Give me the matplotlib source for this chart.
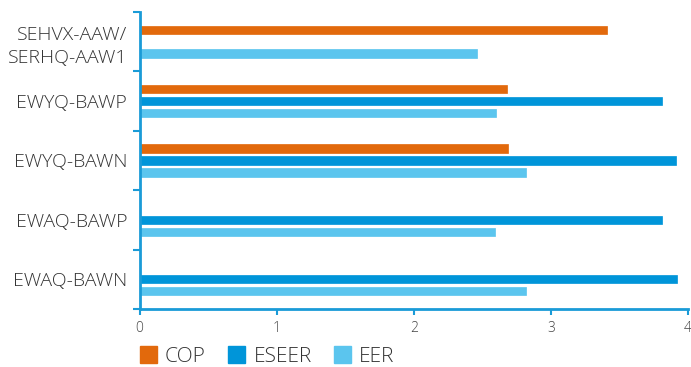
import numpy as np
import matplotlib
matplotlib.use("Agg")
import matplotlib.pyplot as plt
from matplotlib.patches import Patch

categories = ["SEHVX-AAW/\nSERHQ-AAW1", "EWYQ-BAWP", "EWYQ-BAWN", "EWAQ-BAWP", "EWAQ-BAWN"]
cop = [3.41, 2.68, 2.69, np.nan, np.nan]
eseer = [np.nan, 3.81, 3.91, 3.81, 3.92]
eer = [2.46, 2.60, 2.82, 2.59, 2.82]
series_names = ["COP", "ESEER", "EER"]
colors = ["#E2690C", "#0095D9", "#5BC5EE"]
xticks = [0, 1, 2, 3, 4]

plt.rcParams['font.family'] = ['Open Sans', 'DejaVu Sans']
plt.rcParams['font.weight'] = 'light'
fig = plt.figure(figsize=(6.91, 3.67), dpi=100)
ax = fig.add_axes([139.6/691, 1-309/367, (688-139.6)/691, (309-12)/367])

y = np.arange(len(categories))
h = 0.14
for vals, off, c in zip([cop, eseer, eer], [-0.2, 0.0, 0.2], colors):
    ax.barh(y + off, vals, height=h, color=c, edgecolor=c, linewidth=0.5)

ax.set_ylim(len(categories) - 0.5, -0.5)
ax.set_xlim(0, 4)
ax.set_xticks(xticks)
ax.set_xticklabels([str(t) for t in xticks])
ax.set_yticks(y)
ax.set_yticklabels(categories, fontsize=14, color="#333333", linespacing=1.35)
ax.set_yticks(np.arange(-0.5, len(categories)), minor=True)

axis_blue = "#1A9BD7"
for s in ["top", "right"]:
    ax.spines[s].set_visible(False)
for s in ["left", "bottom"]:
    ax.spines[s].set_color(axis_blue)
    ax.spines[s].set_linewidth(2)
ax.tick_params(axis="y", which="major", length=0, pad=9)
ax.tick_params(axis="y", which="minor", length=5, width=1.5, color=axis_blue)
ax.tick_params(axis="x", which="major", length=4, width=1.5, color=axis_blue,
               labelsize=10, labelcolor="#444444", pad=5)

handles = [Patch(facecolor=c, edgecolor=c) for c in colors]
fig.legend(handles, series_names, loc="center left", bbox_to_anchor=(139.5/691, 10.5/367),
           ncol=3, frameon=False, fontsize=15, handlelength=0.83, handleheight=0.83,
           handletextpad=0.4, columnspacing=1.05, borderpad=0, borderaxespad=0,
           labelcolor="#333333")

fig.savefig("out.png", dpi=100)
